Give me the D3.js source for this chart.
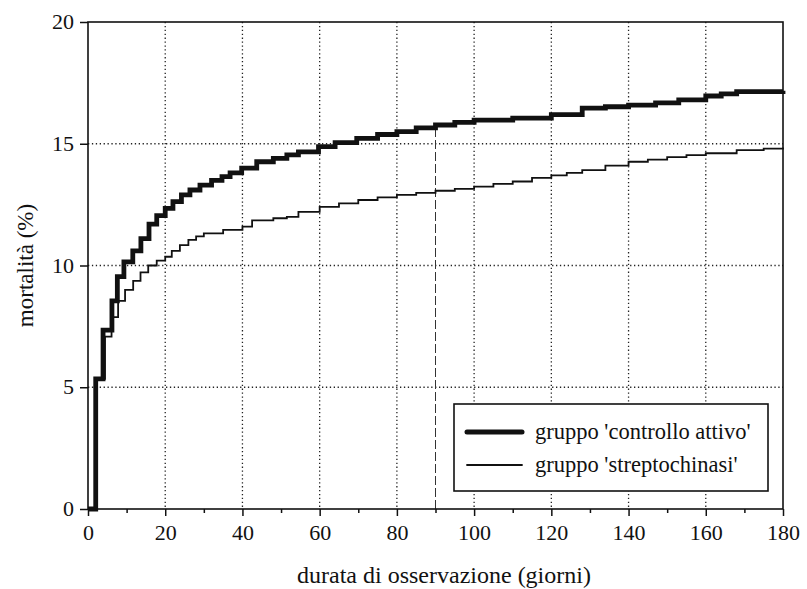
<!DOCTYPE html>
<html>
<head>
<meta charset="utf-8">
<script src="https://cdn.jsdelivr.net/npm/d3@7"></script>
<style>
  body { margin: 0; background: #fff; }
</style>
</head>
<body>
<div id="chart"></div>
<script>
// Kaplan-Meier style cumulative mortality
var ctrlDays = [0, 2, 3.9, 6.2, 7.6, 9.3, 11.6, 13.7, 15.8, 17.8, 20, 22, 24.2, 26.4, 29, 32, 34.7, 36.8, 39.8, 43.7, 48, 51.5, 54.5, 59.7, 64, 69.6, 75, 80, 85, 90, 95, 100, 110, 120, 128, 134, 140, 147, 153, 160, 164, 168, 180];
var ctrlVals = [0, 5.34, 7.35, 8.55, 9.54, 10.15, 10.6, 11.1, 11.7, 12.05, 12.35, 12.62, 12.9, 13.1, 13.3, 13.5, 13.65, 13.8, 14.0, 14.26, 14.4, 14.54, 14.67, 14.88, 15.05, 15.22, 15.38, 15.5, 15.65, 15.77, 15.88, 15.97, 16.05, 16.2, 16.46, 16.52, 16.59, 16.68, 16.8, 16.96, 17.05, 17.14, 17.18];

var strepDays = [0, 2, 4.4, 6.1, 7.8, 9.6, 11.7, 13.6, 15.6, 17.8, 20, 21.7, 23.8, 26, 28, 30, 35, 40, 42.5, 48, 51.5, 54.5, 60, 65, 70, 75, 80, 85, 90, 95, 100, 105, 110, 115, 120, 124, 128, 134, 140, 145, 150, 155, 160, 168, 175, 180];
var strepVals = [0, 5.34, 7.08, 7.88, 8.55, 9.0, 9.37, 9.72, 10.0, 10.2, 10.36, 10.6, 10.84, 11.05, 11.2, 11.32, 11.46, 11.6, 11.85, 11.94, 12.0, 12.2, 12.41, 12.55, 12.69, 12.8, 12.9, 12.98, 13.07, 13.15, 13.24, 13.35, 13.45, 13.6, 13.7, 13.8, 13.92, 14.1, 14.26, 14.35, 14.45, 14.53, 14.61, 14.74, 14.8, 14.85];

var seriesNames = ["gruppo 'controllo attivo'", "gruppo 'streptochinasi'"];
var xTicks = [0, 20, 40, 60, 80, 100, 120, 140, 160, 180];
var yTicks = [0, 5, 10, 15, 20];
var markerDay = 90;

var serif = "Liberation Serif";

var svgWidth = 807;
var svgHeight = 589;
var margin = { top: 22, right: 24, bottom: 80, left: 88 };
var width = svgWidth - margin.left - margin.right;
var height = svgHeight - margin.top - margin.bottom;

var svg = d3.select("#chart")
  .append("svg")
  .attr("width", svgWidth)
  .attr("height", svgHeight);

var chartGroup = svg.append("g")
  .attr("transform", `translate(${margin.left}, ${margin.top})`);

var xScale = d3.scaleLinear().domain([0, 180]).range([0, width]);
var yScale = d3.scaleLinear().domain([0, 20]).range([height, 0]);

// dotted grid, inner lines only
chartGroup.selectAll(".vgrid")
  .data(xTicks.slice(1, -1))
  .enter()
  .append("line")
  .attr("x1", d => xScale(d)).attr("x2", d => xScale(d))
  .attr("y1", 0).attr("y2", height)
  .attr("stroke", "#222").attr("stroke-width", 1.3)
  .attr("stroke-dasharray", "1.3,2.6");

chartGroup.selectAll(".hgrid")
  .data(yTicks.slice(1, -1))
  .enter()
  .append("line")
  .attr("x1", 0).attr("x2", width)
  .attr("y1", d => yScale(d)).attr("y2", d => yScale(d))
  .attr("stroke", "#222").attr("stroke-width", 1.3)
  .attr("stroke-dasharray", "1.3,2.6");

// dashed marker at 90 days
chartGroup.append("line")
  .attr("x1", xScale(markerDay)).attr("x2", xScale(markerDay))
  .attr("y1", yScale(0))
  .attr("y2", yScale(ctrlVals[ctrlDays.indexOf(markerDay)]))
  .attr("stroke", "#333").attr("stroke-width", 1)
  .attr("stroke-dasharray", "9,3");

// axes
var bottomAxis = d3.axisBottom(xScale).tickValues(xTicks).tickSize(7).tickPadding(8);
var minorAxis = d3.axisBottom(xScale).tickValues(d3.range(10, 180, 20)).tickSize(4).tickFormat("");
var leftAxis = d3.axisLeft(yScale).tickValues(yTicks).tickSize(8).tickPadding(6);

var xg = chartGroup.append("g")
  .attr("transform", `translate(0, ${height})`)
  .call(bottomAxis);
chartGroup.append("g")
  .attr("transform", `translate(0, ${height})`)
  .call(minorAxis);
var yg = chartGroup.append("g").call(leftAxis);

chartGroup.selectAll(".tick line").attr("stroke", "#111").attr("stroke-width", 1.5);
chartGroup.selectAll(".domain").remove();
chartGroup.selectAll(".tick text")
  .attr("font-family", serif)
  .attr("font-size", 22)
  .attr("fill", "#111");
yg.selectAll(".tick text").attr("dy", "0.3em");

// curves
var line = d3.line()
  .x(d => xScale(d[0]))
  .y(d => yScale(d[1]))
  .curve(d3.curveStepAfter);

chartGroup.append("path")
  .datum(d3.zip(strepDays, strepVals))
  .attr("d", line)
  .attr("fill", "none")
  .attr("stroke", "#111")
  .attr("stroke-width", 1.8);

chartGroup.append("path")
  .datum(d3.zip(ctrlDays, ctrlVals))
  .attr("d", line)
  .attr("fill", "none")
  .attr("stroke", "#111")
  .attr("stroke-width", 4.8);

// frame
chartGroup.append("rect")
  .attr("x", 0).attr("y", 0)
  .attr("width", width).attr("height", height)
  .attr("fill", "none")
  .attr("stroke", "#111")
  .attr("stroke-width", 1.6);

// legend
var legend = chartGroup.append("g")
  .attr("transform", `translate(${454 - margin.left}, ${404 - margin.top})`);
legend.append("rect")
  .attr("width", 314).attr("height", 87)
  .attr("fill", "#fff")
  .attr("stroke", "#111")
  .attr("stroke-width", 1.6);

var legendWidths = [5, 1.8];
seriesNames.forEach(function (name, i) {
  var ly = 28 + i * 33;
  legend.append("line")
    .attr("x1", 13).attr("x2", 68)
    .attr("y1", ly).attr("y2", ly)
    .attr("stroke", "#111")
    .attr("stroke-width", legendWidths[i])
    .attr("stroke-linecap", "round");
  legend.append("text")
    .attr("x", 81).attr("y", ly)
    .attr("dy", "0.33em")
    .attr("font-family", serif)
    .attr("font-size", 22.5)
    .attr("fill", "#111")
    .text(name);
});

// axis titles
chartGroup.append("text")
  .attr("transform", "rotate(-90)")
  .attr("x", 0 - height / 2)
  .attr("y", 33 - margin.left)
  .attr("text-anchor", "middle")
  .attr("font-family", serif)
  .attr("font-size", 23)
  .attr("fill", "#111")
  .text("mortalità (%)");

chartGroup.append("text")
  .attr("x", 444 - margin.left)
  .attr("y", 583 - margin.top)
  .attr("text-anchor", "middle")
  .attr("font-family", serif)
  .attr("font-size", 24)
  .attr("fill", "#111")
  .text("durata di osservazione (giorni)");
</script>
</body>
</html>
